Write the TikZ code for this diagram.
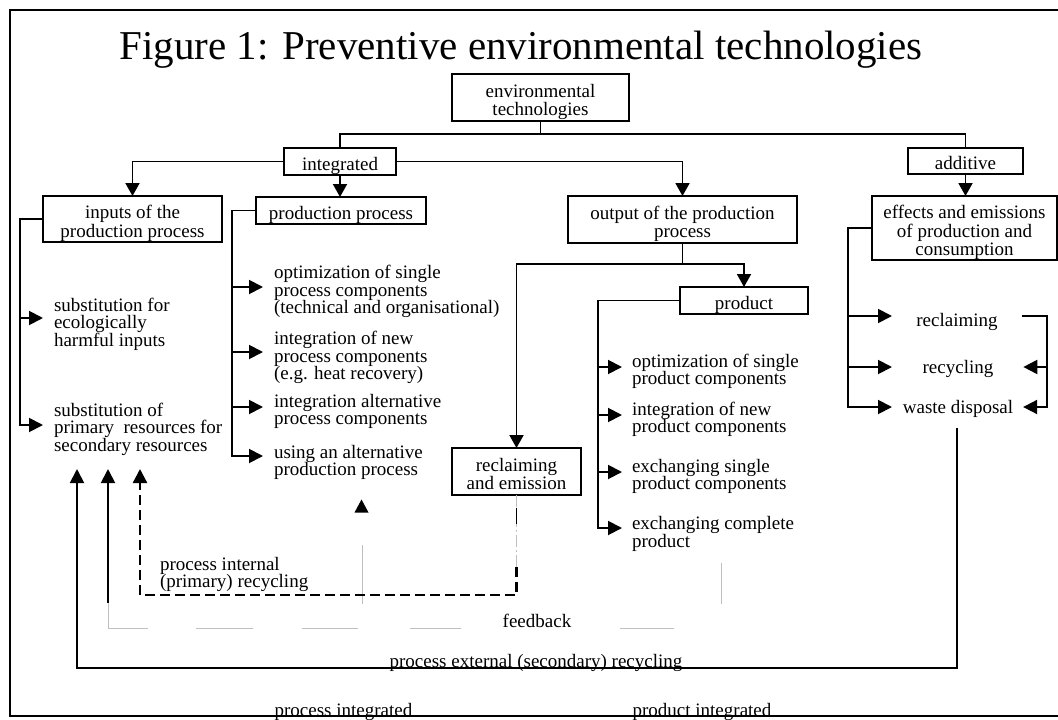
\documentclass[tikz,border=0pt]{standalone}
\usepackage{fontspec}
\setmainfont{Liberation Serif}
\usetikzlibrary{arrows.meta,calc}
\newcommand{\lowr}[1]{\raisebox{-5pt}[\height][\depth]{\begin{tabular}{@{}c@{}}#1\end{tabular}}}
\begin{document}
\begin{tikzpicture}[x=1pt,y=-1pt,
  every node/.style={inner sep=0pt, outer sep=0pt},
  body/.style={font=\fontsize{19}{17.5}\selectfont},
  box/.style={body, draw, line width=1.9pt, align=center},
  txt/.style={body, align=left, anchor=west},
  conn/.style={line width=1.9pt},
  arr/.style={conn, -{Triangle[length=14pt,width=14pt]}},
  dtip/.style={conn, -{Triangle[length=13pt,width=14pt]}},
  ghost/.style={gray!50, line width=0.8pt},
  intdash/.style={line width=2.3pt, dash pattern=on 10pt off 5pt, -{Triangle[length=14pt,width=14pt]}},
]
\useasboundingbox (0,0) rectangle (1058,720);
% outer frame (right side outside the picture)
\draw[line width=1.6pt] (1058,10) -- (10,10) -- (10,716) -- (1058,716);

% title
\node[font=\fontsize{41}{41}\selectfont, anchor=base] (title) at (521,59) {Figure 1: Preventive environmental technologies};

% boxes
\node[box, minimum width=177pt, minimum height=47pt] (env) at (540.5,97.5) {\lowr{environmental\\technologies}};
\node[box, minimum width=112pt, minimum height=27pt] (integ) at (340,161.5) {\lowr{integrated}};
\node[box, minimum width=115pt, minimum height=26pt] (addit) at (965.5,161) {\lowr{additive}};
\node[box, minimum width=179pt, minimum height=46pt] (inputs) at (132.5,219) {\lowr{inputs of the\\production process}};
\node[box, minimum width=170pt, minimum height=27pt] (prodproc) at (341,210.5) {\lowr{production process}};
\node[box, minimum width=229pt, minimum height=47pt] (output) at (682.5,219.5) {\lowr{output of the production\\process}};
\node[box, minimum width=185pt, minimum height=64pt] (effects) at (964.5,228) {\lowr{effects and emissions\\of production and\\consumption}};
\node[box, minimum width=128pt, minimum height=27pt] (product) at (744,300.5) {\lowr{product}};
\node[box, minimum width=129pt, minimum height=47pt] (reclaim) at (516.5,471.5) {\lowr{reclaiming\\and emission}};

% tree connectors
\coordinate (j0) at ($(env.south)+(0,13)$);
\draw[conn] (env.south) -- (j0);
\draw[conn] (integ.north) |- (j0) -| (addit.north);
\draw[dtip] (integ.west) -| (inputs.north);
\draw[dtip] (integ.south) -- (integ.south |- prodproc.north);
\draw[dtip] (integ.east) -| (output.north);
\draw[dtip] (addit.south) -- (addit.south |- effects.north);
\coordinate (j1) at ($(output.south)+(0,21)$);
\draw[conn] (output.south) -- (j1);
\draw[dtip] (j1) -| (product.north);
\draw[dtip] (j1) -| (reclaim.north);

% inputs items
\node[txt] (s1) at (54,324) {substitution for\\ecologically\\harmful inputs};
\node[txt] (s2) at (54,429) {substitution of\\primary\ \ resources for\\secondary resources};
\draw[arr] (inputs.west) -| ($(s2.west)+(-34,-4)$) -- ($(s2.west)+(-11,-4)$);
\draw[arr] ($(s1.west)+(-34,-6)$) -- ($(s1.west)+(-11,-6)$);

% production process items
\node[txt] (p1) at (274,291.5) {optimization of single\\process components\\(technical and organisational)};
\node[txt] (p2) at (274,357.5) {integration of new\\process components\\(e.g. heat recovery)};
\node[txt] (p3) at (274,411.5) {integration alternative\\process components};
\node[txt] (p4) at (274,462.5) {using an alternative\\production process};
\draw[arr] (prodproc.west) -| ($(p4.west)+(-42,-6.5)$) -- ($(p4.west)+(-11,-6.5)$);
\draw[arr] ($(p1.west)+(-42,-4.5)$) -- ($(p1.west)+(-11,-4.5)$);
\draw[arr] ($(p2.west)+(-42,-5.5)$) -- ($(p2.west)+(-11,-5.5)$);
\draw[arr] ($(p3.west)+(-42,-4.5)$) -- ($(p3.west)+(-11,-4.5)$);

% product items
\node[txt] (q1) at (632,371.5) {optimization of single\\product components};
\node[txt] (q2) at (632,419.5) {integration of new\\product components};
\node[txt] (q3) at (632,476.5) {exchanging single\\product components};
\node[txt] (q4) at (632,534) {exchanging complete\\product};
\draw[arr] (product.west) -| ($(q4.west)+(-34,-6)$) -- ($(q4.west)+(-10,-6)$);
\draw[arr] ($(q1.west)+(-34,-4.5)$) -- ($(q1.west)+(-10,-4.5)$);
\draw[arr] ($(q2.west)+(-34,-4.5)$) -- ($(q2.west)+(-10,-4.5)$);
\draw[arr] ($(q3.west)+(-34,-4.5)$) -- ($(q3.west)+(-10,-4.5)$);

% effects items
\node[body] (e1) at (957,322) {reclaiming};
\node[body] (e2) at (958,369) {recycling};
\node[body] (e3) at (958,409) {waste disposal};
\coordinate (esp) at (848,0);
\coordinate (etp) at (892,0);
\coordinate (ebr) at (1047,0);
\draw[arr] (effects.west) -| ($(esp |- e3)+(0,-2)$) -- ($(etp |- e3)+(0,-2)$);
\draw[arr] ($(esp |- e1)+(0,-6)$) -- ($(etp |- e1)+(0,-6)$);
\draw[arr] ($(esp |- e2)+(0,-2)$) -- ($(etp |- e2)+(0,-2)$);
\draw[arr] ($(e1.east)+(24,-6)$) -| ($(ebr |- e3)+(0,-2)$) -- ($(e3.east)+(10,-2)$);
\draw[arr] ($(ebr |- e2)+(0,-2)$) -- ($(e2.east)+(30,-2)$);

% feedback loops
\coordinate (ua1) at (77,469);
\coordinate (ua2) at (108,469);
\coordinate (ua3) at (140,469);
\coordinate (ext) at (77,668);
% process external (secondary) recycling
\draw[arr] ($(e3.south)+(-1,10)$) |- (ext) -- (ua1);
% feedback
\draw[ghost] (108,628) -- (108,547);
\draw[arr] (108,603) -- (ua2);
\draw[ghost] (108,628) -- (148,628);
\draw[ghost] (196,628) -- (253,628);
\draw[ghost] (302,628) -- (358,628);
\draw[ghost] (410,628) -- (461,628);
\draw[ghost] (620,628) -- (674,628);
\draw[ghost] (362,545) -- (362,604);
\draw[ghost] (721,563) -- (721,604);
\fill (354.5,512.5) -- (368.5,512.5) -- (361.5,499.5) -- cycle;
% process internal (primary) recycling
\coordinate (rd) at ($(reclaim.south)+(0,72)$);
\draw[ghost, dash pattern=on 12pt off 3pt on 2pt off 3pt] (reclaim.south) -- (rd);
\draw[conn] ($(reclaim.south)+(0,13)$) -- ($(reclaim.south)+(0,29)$);
\draw[intdash] (rd) -- ($(rd)+(0,28)$) -| (ua3);

% loop labels
\node[txt] (pint) at (160,574.5) {process internal\\(primary) recycling};
\node[body, anchor=base] (fb) at (537,627) {feedback};
\node[body, anchor=base] (pext) at (536,667) {process external (secondary) recycling};
\node[body, anchor=base] (pi) at (343.5,716) {process integrated};
\node[body, anchor=base] (pdi) at (702,716) {product integrated};
\end{tikzpicture}
\end{document}
